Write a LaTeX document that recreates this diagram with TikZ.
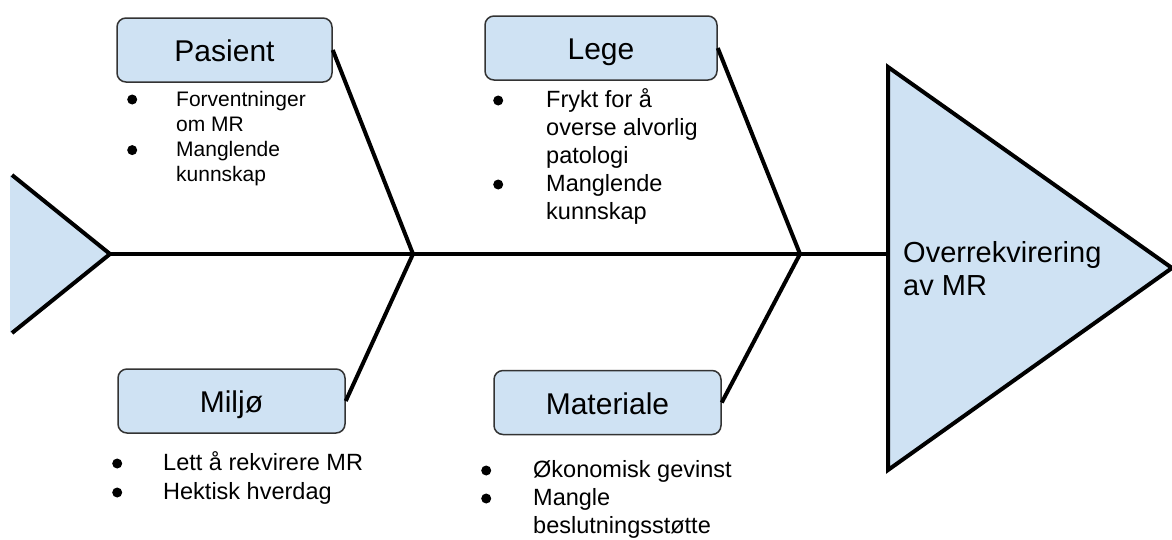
\documentclass[tikz,border=0pt]{standalone}
\usepackage{fontspec}
\setmainfont{Liberation Sans}
\usepackage{array}
\definecolor{paleblue}{HTML}{CFE2F3}
\newcommand{\itemdot}{\tikz[baseline=-6.5pt]\fill (5pt,0pt) circle (5pt);}

\begin{document}
\begin{tikzpicture}[x=1pt,y=-1pt,
    bone/.style={line width=4pt},
    cause/.style={draw=black!80, line width=1.5pt, fill=paleblue, rounded corners=9pt,
      minimum height=64pt, inner sep=0pt, text height=24pt, text depth=1pt,
      font=\fontsize{30}{34}\selectfont},
    items/.style={anchor=base west, inner sep=0pt, font=\fontsize{23.5}{28}\selectfont}]
	\useasboundingbox (0,0) rectangle (1172,539);
	% fish tail
	\fill[paleblue] (10,175) -- (110,254) -- (10,333) -- cycle;
	\draw[bone] (12,175) -- (110,254) coordinate (tail) -- (12,333);
	\coordinate (j1) at (413,254);
	\coordinate (j2) at (800,254);
	\coordinate (head) at (888,254);
	\draw[bone] (tail) -- (head);
	% fish head
	\filldraw[fill=paleblue, bone] (888,67) -- (1172,268) -- (888,470) -- cycle;
	\node[anchor=base west, inner sep=0pt, font=\fontsize{29}{33}\selectfont] (effect) at (903,262)
		{\begin{tabular}[t]{@{}l@{}}Overrekvirering\\av MR\end{tabular}};
	% causes
	\node[cause, minimum width=215pt] (pasient) at (224.5,50) {Pasient};
	\node[cause, minimum width=232pt] (lege) at (601,48) {Lege};
	\node[cause, minimum width=227pt] (miljo) at (231.5,401) {Miljø};
	\node[cause, minimum width=227pt] (materiale) at (607.5,402.5) {Materiale};
	\draw[bone] (pasient.east) -- (j1) -- (miljo.east);
	\draw[bone] (lege.east) -- (j2) -- (materiale.east);
	% bullet lists
	\node[items, font=\fontsize{21}{25.3}\selectfont] (pasientlist) at (127,106)
		{\begin{tabular}[t]{@{}p{49pt}@{}l@{}}\itemdot & Forventninger\\ & om MR\\ \itemdot & Manglende\\ & kunnskap\end{tabular}};
	\node[items] (legelist) at (493,107)
		{\begin{tabular}[t]{@{}p{53pt}@{}l@{}}\itemdot & Frykt for å\\ & overse alvorlig\\ & patologi\\ \itemdot & Manglende\\ & kunnskap\end{tabular}};
	\node[items, font=\fontsize{23.5}{29}\selectfont] (miljolist) at (112,470)
		{\begin{tabular}[t]{@{}p{51pt}@{}l@{}}\itemdot & Lett å rekvirere MR\\ \itemdot & Hektisk hverdag\end{tabular}};
	\node[items] (materialelist) at (481,477)
		{\begin{tabular}[t]{@{}p{52pt}@{}l@{}}\itemdot & Økonomisk gevinst\\ \itemdot & Mangle\\ & beslutningsstøtte\end{tabular}};
\end{tikzpicture}
\end{document}
